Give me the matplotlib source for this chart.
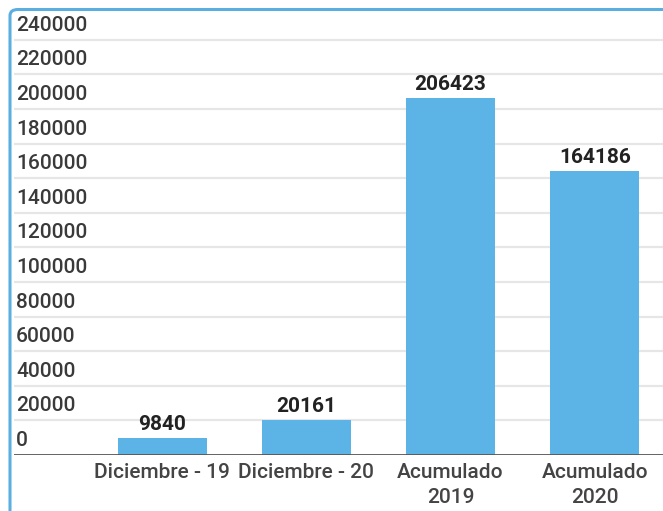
import matplotlib.pyplot as plt
import matplotlib.transforms as mtransforms
from matplotlib.patches import FancyBboxPatch
import numpy as np

# data
categories = ['Diciembre - 19', 'Diciembre - 20', 'Acumulado\n2019', 'Acumulado\n2020']
values = [9840, 20161, 206423, 164186]
y_ticks = [0, 20000, 40000, 60000, 80000, 100000, 120000,
           140000, 160000, 180000, 200000, 220000, 240000]

bar_color = '#5bb4e5'
frame_color = '#5aaee0'

plt.rcParams['font.family'] = ['Roboto', 'DejaVu Sans']

W, H = 663, 511
fig = plt.figure(figsize=(W / 100, H / 100), dpi=100)

# axes placed in pixel terms (baseline at y=455, left edge at x=14)
ax = fig.add_axes([14 / W, 56 / H, (W - 14) / W, 425.6 / H])
ax.set_ylim(0, 246000)
ax.set_xlim(-1.026, 3.472)

x = np.arange(len(categories))
ax.bar(x, values, width=0.617, color=bar_color, zorder=2)

# grid lines + labels sitting above them
lab_tr = mtransforms.offset_copy(
    mtransforms.blended_transform_factory(ax.transAxes, ax.transData),
    fig=fig, x=2, y=5, units='dots')
for t in y_ticks:
    if t > 0:
        ax.axhline(t, color='#e6e6e6', lw=1.6, zorder=1)
    ax.text(0.0, t, str(t), transform=lab_tr, ha='left', va='bottom',
            fontsize=15, color='#3a3a3a', fontweight='medium')

ax.axhline(0, color='#555555', lw=2.0, zorder=3)

# value labels on top of bars
for xi, v in zip(x, values):
    ax.annotate(str(v), (xi, v), xytext=(0, 3), textcoords='offset points',
                ha='center', va='bottom', fontsize=15, fontweight='bold',
                color='#222222')

ax.set_xticks(x)
ax.set_xticklabels(categories, fontsize=15, color='#444444',
                   fontweight='medium', linespacing=1.4)
ax.tick_params(axis='x', length=0, pad=6)
ax.set_yticks([])
for s in ax.spines.values():
    s.set_visible(False)

# rounded blue frame partly cropped by the image edge
frame = FancyBboxPatch((10 / W, -30 / H), 720 / W, (H - 9.5 + 30) / H,
                       boxstyle='round,pad=0,rounding_size=0.012',
                       transform=fig.transFigure, fill=False,
                       edgecolor=frame_color, lw=2.2, clip_on=False)
fig.patches.append(frame)

fig.savefig('out.png', dpi=100)
